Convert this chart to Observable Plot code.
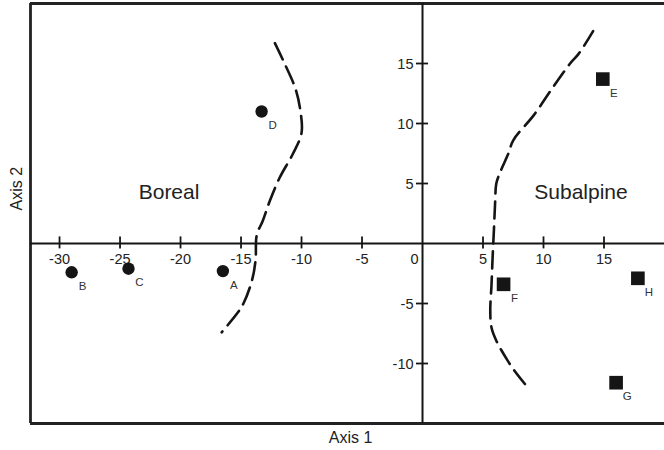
<!DOCTYPE html>
<html>
<head>
<meta charset="utf-8">
<script src="https://cdn.jsdelivr.net/npm/d3@7"></script>
<script src="https://cdn.jsdelivr.net/npm/@observablehq/plot@0.6"></script>
<style>
  html, body { margin: 0; padding: 0; background: #fff; }
  #chart svg { display: block; }
</style>
</head>
<body>
<div id="chart"></div>
<script>
// ---- Data ----
const siteLabels = ["A", "B", "C", "D", "E", "F", "G", "H"];
const axis1Scores = [-16.5, -29.0, -24.3, -13.3, 14.9, 6.7, 16.0, 17.8];
const axis2Scores = [-2.3, -2.4, -2.1, 11.0, 13.7, -3.4, -11.6, -2.9];
const siteZone = ["Boreal", "Boreal", "Boreal", "Boreal", "Subalpine", "Subalpine", "Subalpine", "Subalpine"];

const borealLineX = [-12.2, -11.4, -10.5, -10.1, -10.0, -10.7, -11.8, -12.6, -13.2, -13.7, -13.8, -14.1, -14.8, -15.3, -16.6];
const borealLineY = [16.7, 15.0, 12.9, 11.1, 9.2, 7.5, 5.5, 3.6, 1.9, 0.7, -1.4, -3.1, -5.0, -5.8, -7.4];
const subalpineLineX = [14.1, 12.9, 12.2, 10.7, 9.2, 7.5, 7.1, 6.4, 6.1, 6.0, 5.9, 5.8, 5.7, 5.6, 5.7, 6.1, 7.0, 7.6, 8.7];
const subalpineLineY = [17.7, 15.8, 15.0, 12.9, 10.7, 8.6, 7.5, 5.9, 5.0, 3.4, 1.1, -1.0, -3.5, -5.6, -7.0, -8.1, -9.7, -10.6, -12.0];

const zoneNames = ["Boreal", "Subalpine"];
const zoneLabelX = [-20.95, 13.1];
const zoneLabelY = [4.3, 4.3];

const xTicks = [-30, -25, -20, -15, -10, -5, 5, 10, 15];
const yTicks = [-10, -5, 5, 10, 15];
const xDomain = [-32.4, 20];
const yDomain = [-15, 20];
const xTitle = "Axis 1";
const yTitle = "Axis 2";

// ---- Tables built from the arrays ----
const sites = siteLabels.map((s, i) => ({label: s, x: axis1Scores[i], y: axis2Scores[i], zone: siteZone[i]}));
const boreal = sites.filter(d => d.zone === "Boreal");
const subalpine = sites.filter(d => d.zone === "Subalpine");
const borealLine = borealLineX.map((x, i) => ({x, y: borealLineY[i]}));
const subalpineLine = subalpineLineX.map((x, i) => ({x, y: subalpineLineY[i]}));
const zones = zoneNames.map((n, i) => ({name: n, x: zoneLabelX[i], y: zoneLabelY[i]}));

const ink = "#151515";
const font = "'Liberation Sans', Arial, Helvetica, sans-serif";

const chart = Plot.plot({
  width: 664,
  height: 450,
  marginLeft: 30,
  marginRight: 0,
  marginTop: 3,
  marginBottom: 27,
  style: {fontFamily: font, background: "#fff", overflow: "visible"},
  x: {domain: xDomain, axis: null},
  y: {domain: yDomain, axis: null},
  marks: [
    // frame edges
    Plot.ruleY([yDomain[0], yDomain[1]], {stroke: "#222", strokeWidth: 2.8}),
    Plot.ruleX([xDomain[0]], {stroke: "#222", strokeWidth: 2.8}),
    // axes through origin
    Plot.ruleY([0], {stroke: ink, strokeWidth: 2}),
    Plot.ruleX([0], {stroke: ink, strokeWidth: 2}),
    // tick marks
    Plot.ruleX(xTicks, {x: d => d, y1: -0.45, y2: 0.55, stroke: ink, strokeWidth: 1.8}),
    Plot.ruleY(yTicks, {y: d => d, x1: -0.5, x2: 0.5, stroke: ink, strokeWidth: 1.8}),
    // tick labels
    Plot.text(xTicks, {x: d => d, y: 0, dy: 16, text: d => String(d), fontSize: 14.5, fill: "#222"}),
    Plot.text([0], {x: d => d, y: 0, dy: 16, dx: -4, textAnchor: "end", text: d => String(d), fontSize: 14.5, fill: "#222"}),
    Plot.text(yTicks, {x: 0, y: d => d, dx: -9, dy: 1, textAnchor: "end", text: d => String(d), fontSize: 14.5, fill: "#222"}),
    // boundaries
    Plot.line(borealLine, {x: "x", y: "y", curve: "catmull-rom", stroke: ink, strokeWidth: 2.6, strokeDasharray: "18,8"}),
    Plot.line(subalpineLine, {x: "x", y: "y", curve: "catmull-rom", stroke: ink, strokeWidth: 2.6, strokeDasharray: "17,8"}),
    // sites
    Plot.dot(boreal, {x: "x", y: "y", r: 6.2, fill: ink, symbol: "circle"}),
    Plot.dot(subalpine, {x: "x", y: "y", r: 7.7, fill: ink, symbol: "square"}),
    Plot.text(sites, {x: "x", y: "y", text: "label", dx: 11, dy: 14, fontSize: 11.5, fill: "#333"}),
    // zone labels
    Plot.text(zones, {x: "x", y: "y", text: "name", fontSize: 21, fill: "#222"}),
    // axis titles
    Plot.text([xTitle], {frameAnchor: "bottom", text: d => d, dy: 19, dx: 3, fontSize: 16, fill: "#222"}),
    Plot.text([yTitle], {frameAnchor: "left", text: d => d, dx: -14, dy: -3, rotate: -90, fontSize: 16, fill: "#222"})
  ]
});

document.getElementById("chart").appendChild(chart);
</script>
</body>
</html>
